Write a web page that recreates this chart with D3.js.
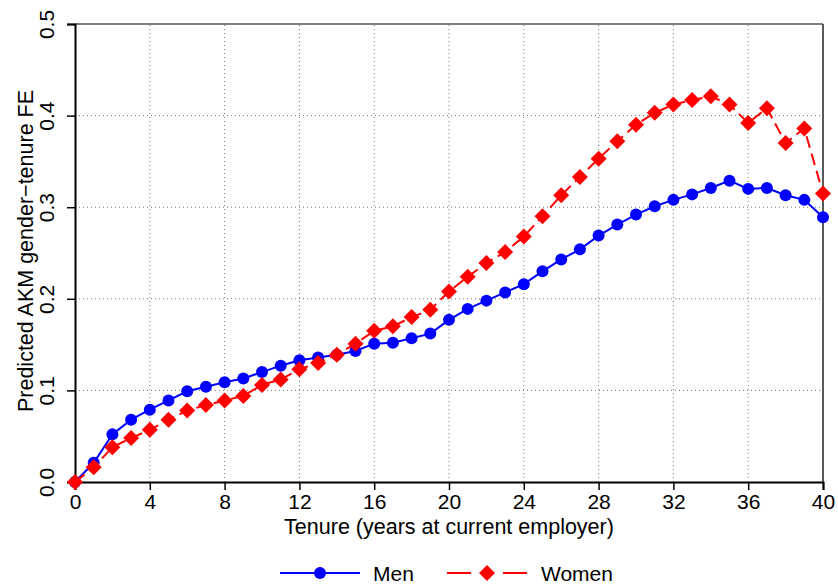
<!DOCTYPE html>
<html><head><meta charset="utf-8">
<script src="https://cdn.jsdelivr.net/npm/d3@7"></script>
<style>body{margin:0;background:#fff}svg{display:block}text{font-family:"Liberation Sans",Arial,sans-serif}</style>
</head><body>
<script>
const tenure = d3.range(0,41);
const men = [0,0.021,0.052,0.068,0.079,0.089,0.099,0.104,0.109,0.113,0.120,0.127,0.133,0.136,0.139,0.143,0.151,0.152,0.157,0.162,0.177,0.189,0.198,0.207,0.216,0.230,0.243,0.254,0.269,0.281,0.292,0.301,0.308,0.314,0.321,0.329,0.320,0.321,0.313,0.308,0.289];
const women = [0,0.016,0.038,0.048,0.057,0.068,0.078,0.084,0.089,0.094,0.106,0.112,0.123,0.130,0.139,0.151,0.165,0.170,0.180,0.188,0.208,0.224,0.239,0.251,0.268,0.290,0.313,0.333,0.353,0.372,0.390,0.403,0.412,0.417,0.421,0.412,0.392,0.408,0.370,0.386,0.315];
const xTicks = [0,4,8,12,16,20,24,28,32,36,40];
const yTicks = [0,0.1,0.2,0.3,0.4,0.5];
const seriesNames = ["Men","Women"];

const W=838,H=586;
const m={l:75,r:15,t:24,b:104};
const FS=21;
const svg=d3.select("body").append("svg").attr("width",W).attr("height",H);
const x=d3.scaleLinear().domain([0,40]).range([m.l,W-m.r]);
const y=d3.scaleLinear().domain([0,0.5]).range([H-m.b,m.t]);
const x0=x(0),x1=x(40),y0=y(0),y1=y(0.5);

// grid
const g=svg.append("g");
g.selectAll(".gx").data(xTicks.filter(d=>d>0&&d<40)).join("line")
 .attr("x1",d=>x(d)).attr("x2",d=>x(d)).attr("y1",y0).attr("y2",y1)
 .attr("stroke","#777").attr("stroke-width",1).attr("stroke-dasharray","1,3");
g.selectAll(".gy").data(yTicks.filter(d=>d>0&&d<0.5)).join("line")
 .attr("y1",d=>y(d)).attr("y2",d=>y(d)).attr("x1",x0).attr("x2",x1)
 .attr("stroke","#777").attr("stroke-width",1).attr("stroke-dasharray","1,3");

// box
svg.append("line").attr("x1",x0).attr("x2",x1).attr("y1",y1).attr("y2",y1).attr("stroke","#555").attr("stroke-width",1.5);
svg.append("line").attr("x1",x1).attr("x2",x1).attr("y1",y1).attr("y2",y0).attr("stroke","#222").attr("stroke-width",1.5);

// axes
const xAxis=d3.axisBottom(x).tickValues(xTicks).tickFormat(d3.format("d")).tickSize(8).tickPadding(4);
const gx=svg.append("g").attr("transform",`translate(0,${y0})`).call(xAxis);
gx.select(".domain").attr("stroke","#000").attr("stroke-width",2);
gx.selectAll(".tick line").attr("stroke","#000").attr("stroke-width",1.5);
gx.selectAll(".tick text").attr("font-size",FS).attr("fill","#000").attr("font-family","Liberation Sans, Arial, sans-serif");

const yAxis=d3.axisLeft(y).tickValues(yTicks).tickFormat(d3.format(".1f")).tickSize(8);
const gy=svg.append("g").attr("transform",`translate(${x0},0)`).call(yAxis);
gy.select(".domain").attr("stroke","#000").attr("stroke-width",2);
gy.selectAll(".tick line").attr("stroke","#000").attr("stroke-width",1.5);
gy.selectAll(".tick text").attr("font-size",FS).attr("fill","#000").attr("font-family","Liberation Sans, Arial, sans-serif")
 .attr("x",0).attr("dy",0).attr("text-anchor","middle")
 .attr("transform","translate(-27,0) rotate(-90)").attr("dominant-baseline","middle");

// titles
svg.append("text").attr("x",(x0+x1)/2).attr("y",534).attr("text-anchor","middle").attr("font-size",FS+0.5).text("Tenure (years at current employer)");
svg.append("text").attr("transform",`translate(33,${(y0+y1)/2-2}) rotate(-90)`).attr("text-anchor","middle").attr("font-size",FS+0.5).text("Predicted AKM gender\u2212tenure FE");

// lines
const line=d3.line().x((d,i)=>x(tenure[i])).y(d=>y(d));
svg.append("path").attr("d",line(men)).attr("fill","none").attr("stroke","#0000ff").attr("stroke-width",2);
svg.selectAll(".mc").data(men).join("circle").attr("cx",(d,i)=>x(tenure[i])).attr("cy",d=>y(d)).attr("r",6).attr("fill","#0000ff");
svg.append("path").attr("d",line(women)).attr("fill","none").attr("stroke","#ff0000").attr("stroke-width",2).attr("stroke-dasharray","12,6");
svg.selectAll(".wd").data(women).join("path").attr("d",d3.symbol().type(d3.symbolSquare).size(128))
 .attr("transform",(d,i)=>`translate(${x(tenure[i])},${y(d)}) rotate(45)`).attr("fill","#ff0000");

// legend
const ly=573;
svg.append("line").attr("x1",280).attr("x2",360).attr("y1",ly).attr("y2",ly).attr("stroke","#0000ff").attr("stroke-width",2);
svg.append("circle").attr("cx",320).attr("cy",ly).attr("r",6).attr("fill","#0000ff");
svg.append("text").attr("x",373).attr("y",ly+7.5).attr("font-size",FS).text(seriesNames[0]);
svg.append("line").attr("x1",447).attr("x2",527).attr("y1",ly).attr("y2",ly).attr("stroke","#ff0000").attr("stroke-width",2).attr("stroke-dasharray","24,32,24");
svg.append("path").attr("d",d3.symbol().type(d3.symbolSquare).size(128)).attr("transform",`translate(487,${ly}) rotate(45)`).attr("fill","#ff0000");
svg.append("text").attr("x",541).attr("y",ly+7.5).attr("font-size",FS).text(seriesNames[1]);
</script>
</body></html>
